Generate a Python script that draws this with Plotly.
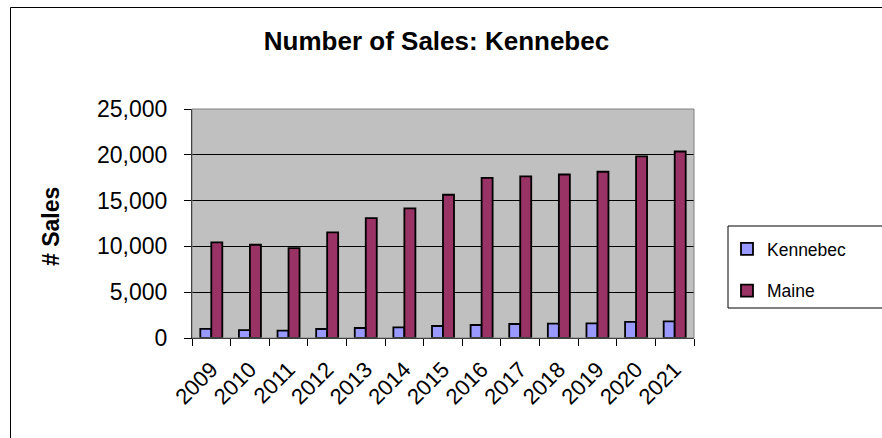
import plotly.graph_objects as go

years = ["2009", "2010", "2011", "2012", "2013", "2014", "2015",
         "2016", "2017", "2018", "2019", "2020", "2021"]
kennebec = [1000, 870, 800, 980, 1090, 1160, 1310, 1420, 1530, 1560, 1600, 1750, 1820]
maine = [10450, 10180, 9820, 11530, 13090, 14150, 15640, 17490, 17640, 17850, 18150, 19820, 20360]
y_ticks = [0, 5000, 10000, 15000, 20000, 25000]
y_tick_labels = ["0", "5,000", "10,000", "15,000", "20,000", "25,000"]

FONT = "Liberation Sans, Arial, sans-serif"
W, H = 882, 438
L, R, T, B = 192, 694, 109, 338


def px(x):
    return (x - L) / (R - L)


def py(y):
    return (B - y) / (B - T)


fig = go.Figure()
fig.add_trace(go.Bar(x=years, y=kennebec, name="Kennebec", legendgroup="a",
                     marker=dict(color="#9999FF", line=dict(color="#000000", width=1.8))))
fig.add_trace(go.Bar(x=years, y=maine, name="Maine", legendgroup="b",
                     marker=dict(color="#993366", line=dict(color="#000000", width=1.8))))

fig.update_layout(
    width=W, height=H,
    margin=dict(l=L, r=W - R, t=T, b=H - B, pad=0),
    paper_bgcolor="#FFFFFF",
    plot_bgcolor="#C0C0C0",
    barmode="group",
    bargap=0.43,
    bargroupgap=0,
    font=dict(family=FONT, color="#000000"),
    title=dict(text="<b>Number of Sales: Kennebec</b>", font=dict(size=26, family=FONT, color="#000"),
               x=436.5 / W, xanchor="center", y=1 - 41 / H, yanchor="middle", xref="container", yref="container"),
    legend=dict(x=px(727), xanchor="left", y=py(231), yanchor="top",
                font=dict(size=17.5, family=FONT), bgcolor="rgba(0,0,0,0)", borderwidth=0,
                tracegroupgap=16, itemwidth=30),
    showlegend=True,
    xaxis=dict(type="category", tickson="boundaries", ticks="outside", ticklen=7, tickcolor="#000",
               tickangle=-45, tickfont=dict(size=22, family=FONT), showgrid=False,
               showline=True, linecolor="#000", linewidth=1, ticklabelstandoff=9),
    yaxis=dict(range=[0, 25000], tickvals=y_ticks, ticktext=y_tick_labels, ticks="outside", ticklen=7,
               tickcolor="#000", tickfont=dict(size=23, family=FONT), showgrid=True, gridcolor="#000",
               gridwidth=1, zeroline=False, showline=True, linecolor="#000", linewidth=1,
               ticklabelstandoff=12),
    annotations=[dict(text="<b># Sales</b>", xref="paper", yref="paper", x=px(51), y=py(227),
                      xanchor="center", yanchor="middle", textangle=-90, showarrow=False,
                      font=dict(size=23, family=FONT, color="#000"))],
    shapes=[
        dict(type="rect", xref="paper", yref="paper", x0=0, x1=1, y0=0, y1=1,
             line=dict(color="#808080", width=1), layer="above"),
        dict(type="rect", xref="paper", yref="paper", x0=px(728), x1=px(900), y0=py(308), y1=py(226),
             line=dict(color="#000", width=1)),
        dict(type="rect", xref="paper", yref="paper", x0=px(10.5), x1=px(900), y0=py(460), y1=py(7.5),
             line=dict(color="#000", width=1)),
    ],
)

fig.write_html("out.html", config={"displayModeBar": False},
               post_script="document.body.style.margin='0';document.body.style.overflow='hidden';")
